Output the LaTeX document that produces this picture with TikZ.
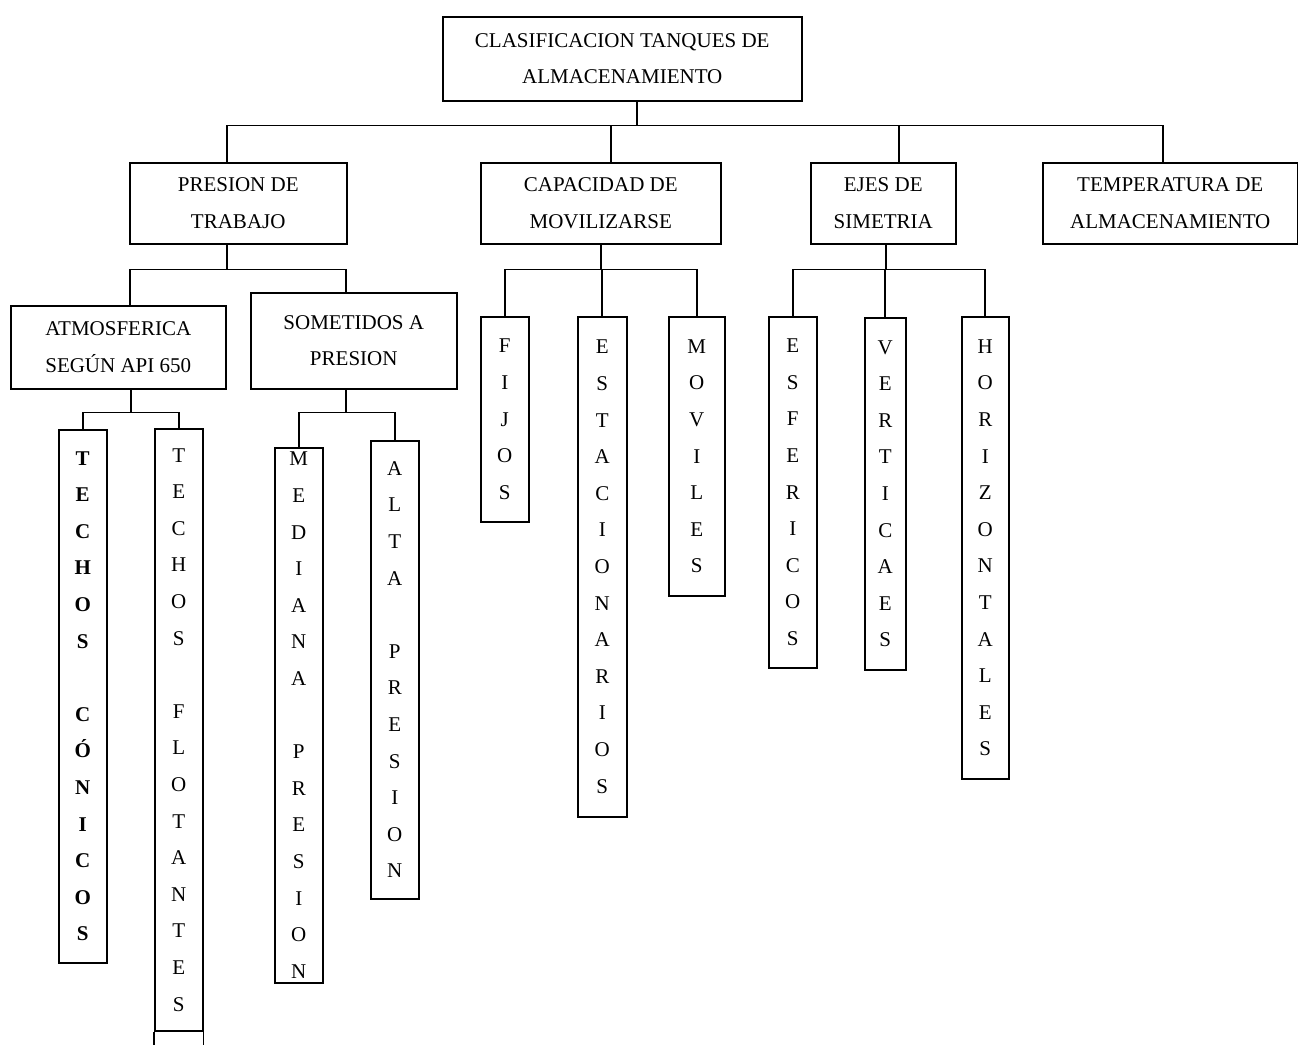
\documentclass[tikz,border=0pt]{standalone}
\usepackage{fontspec}
\setmainfont{Liberation Serif}
\usetikzlibrary{positioning,calc}
\tikzset{
  hbox/.style={draw, line width=1.5pt, align=center, inner sep=0pt, anchor=north west, font=\fontsize{21}{36.6}\selectfont},
  vbox/.style={hbox, minimum width=48pt},
  vboxb/.style={vbox, font=\fontsize{21}{36.6}\selectfont\bfseries},
  link/.style={line width=1.6pt}
}
\begin{document}
\begin{tikzpicture}[x=1pt, y=-1pt]
  \useasboundingbox (0,0) rectangle (1298,1044);
  % main boxes
  \node[hbox, minimum width=359pt, minimum height=84pt] (clasif) at (442,16) {CLASIFICACION TANQUES DE\\ALMACENAMIENTO};
  \node[hbox, minimum width=217pt, minimum height=81pt] (trabajo) at (129,162) {PRESION DE\\TRABAJO};
  \node[hbox, minimum width=240pt, minimum height=81pt] (movil) at (480,162) {CAPACIDAD DE\\MOVILIZARSE};
  \node[hbox, minimum width=145pt, minimum height=81pt] (ejes) at (810,162) {EJES DE\\SIMETRIA};
  \node[hbox, minimum width=255pt, minimum height=81pt] (temp) at (1042,162) {TEMPERATURA DE\\ALMACENAMIENTO};
  \node[hbox, minimum width=215pt, minimum height=83pt] (atmos) at (10,305) {ATMOSFERICA\\SEGÚN API 650};
  \node[hbox, minimum width=206pt, minimum height=96pt] (somet) at (250,292) {SOMETIDOS A\\PRESION};

  % vertical boxes
  \node[vboxb, minimum height=533pt] (conicos) at (58,429) {T\\E\\C\\H\\O\\S\\~\\C\\Ó\\N\\I\\C\\O\\S};
  \node[vbox, minimum height=602pt] (flotantes) at (154,428) {T\\E\\C\\H\\O\\S\\~\\F\\L\\O\\T\\A\\N\\T\\E\\S};
  \node[vbox, minimum height=535pt] (mediana) at (274,447) {M\\E\\D\\I\\A\\N\\A\\~\\P\\R\\E\\S\\I\\O\\N};
  \node[vbox, minimum height=458pt] (alta) at (370,440) {A\\L\\T\\A\\~\\P\\R\\E\\S\\I\\O\\N};
  \node[vbox, minimum height=205pt] (fijos) at (480,316) {F\\I\\J\\O\\S};
  \node[vbox, minimum width=49pt, minimum height=500pt] (estac) at (577,316) {E\\S\\T\\A\\C\\I\\O\\N\\A\\R\\I\\O\\S};
  \node[vbox, minimum width=56pt, minimum height=279pt] (moviles) at (668,316) {M\\O\\V\\I\\L\\E\\S};
  \node[vbox, minimum height=351pt] (esfer) at (768,316) {E\\S\\F\\E\\R\\I\\C\\O\\S};
  \node[vbox, minimum width=41pt, minimum height=352pt] (vert) at (864,317) {V\\E\\R\\T\\I\\C\\A\\E\\S};
  \node[vbox, minimum width=47pt, minimum height=462pt] (horiz) at (961,316) {H\\O\\R\\I\\Z\\O\\N\\T\\A\\L\\E\\S};
  \draw[link] (flotantes.south west) -- ++(0,20) (flotantes.south east) -- ++(0,20);

  % connectors
  \draw[link] ([xshift=14.5pt]clasif.south) -- ++(0,24) coordinate (bus0);
  \draw[link] ([xshift=-11.5pt]trabajo.north) |- (bus0);
  \draw[link] ([xshift=10pt]movil.north) |- (bus0);
  \draw[link] ([xshift=15.5pt]ejes.north) |- (bus0);
  \draw[link] ([xshift=-7.5pt]temp.north) |- (bus0);

  \draw[link] ([xshift=-11.5pt]trabajo.south) -- ++(0,25) coordinate (bus1);
  \draw[link] ([xshift=11.5pt]atmos.north) |- (bus1);
  \draw[link] ([xshift=-8pt]somet.north) |- (bus1);

  \draw[link] ([xshift=12.5pt]atmos.south) -- ++(0,23) coordinate (bus2);
  \draw[link] (conicos.north) |- (bus2);
  \draw[link] (flotantes.north) |- (bus2);

  \draw[link] ([xshift=-8pt]somet.south) -- ++(0,23) coordinate (bus3);
  \draw[link] (mediana.north) |- (bus3);
  \draw[link] (alta.north) |- (bus3);

  \draw[link] (movil.south) -- ++(0,25) coordinate (bus4);
  \draw[link] (fijos.north) |- (bus4);
  \draw[link] (estac.north) |- (bus4);
  \draw[link] (moviles.north) |- (bus4);

  \draw[link] ([xshift=2.5pt]ejes.south) -- ++(0,25) coordinate (bus5);
  \draw[link] (esfer.north) |- (bus5);
  \draw[link] (vert.north) |- (bus5);
  \draw[link] (horiz.north) |- (bus5);
\end{tikzpicture}
\end{document}
